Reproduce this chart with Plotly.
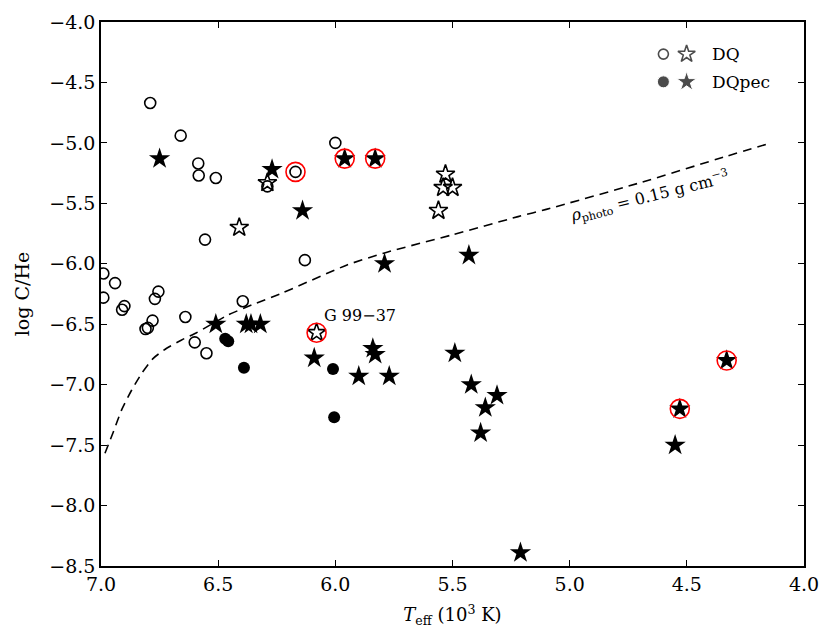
import plotly.graph_objects as go

# DQ, open circles
dq_circ_t = [6.79, 6.66, 6.585, 6.583, 6.51, 6.29, 6.17, 6.00, 6.556, 6.13, 6.99, 6.94,
             6.99, 6.755, 6.77, 6.90, 6.91, 6.395, 6.64, 6.81, 6.80, 6.78, 6.60, 6.55]
dq_circ_c = [-4.67, -4.94, -5.17, -5.27, -5.29, -5.36, -5.24, -5.00, -5.80, -5.97, -6.08, -6.16,
             -6.28, -6.23, -6.29, -6.35, -6.38, -6.31, -6.44, -6.54, -6.53, -6.47, -6.65, -6.74]

# DQ, open stars
dq_star_t = [6.41, 6.29, 5.53, 5.54, 5.50, 5.56, 6.08]
dq_star_c = [-5.70, -5.33, -5.26, -5.37, -5.37, -5.56, -6.57]

# DQpec, filled circles
pec_circ_t = [6.47, 6.457, 6.39, 6.01, 6.005]
pec_circ_c = [-6.62, -6.64, -6.86, -6.87, -7.27]

# DQpec, filled stars
pec_star_t = [6.75, 6.27, 6.14, 5.96, 5.83, 5.79, 5.43, 6.51, 6.38, 6.36, 6.32, 6.09,
              5.84, 5.83, 5.90, 5.77, 5.49, 5.42, 5.31, 5.36, 5.38, 5.21, 4.53, 4.33, 4.55]
pec_star_c = [-5.13, -5.22, -5.56, -5.13, -5.13, -6.00, -5.93, -6.50, -6.50, -6.50, -6.50, -6.78,
              -6.70, -6.75, -6.93, -6.93, -6.74, -7.00, -7.09, -7.19, -7.40, -8.39, -7.20, -6.80, -7.50]

# objects ringed in red
ring_t = [6.17, 5.96, 5.83, 6.08, 4.53, 4.33]
ring_c = [-5.24, -5.13, -5.13, -6.57, -7.20, -6.80]

# rho_photo = 0.15 g/cm3 curve
rho_t = [6.983, 6.947, 6.912, 6.869, 6.826, 6.777, 6.720, 6.656, 6.592, 6.457, 6.357, 6.229,
         5.95, 5.79, 5.50, 5.22, 5.10, 4.70, 4.33, 4.14]
rho_c = [-7.567, -7.389, -7.209, -7.044, -6.906, -6.782, -6.699, -6.630, -6.570, -6.423, -6.341, -6.244,
         -6.01, -5.91, -5.76, -5.61, -5.55, -5.33, -5.11, -5.00]

FONT = "DejaVu Serif"

fig = go.Figure()

fig.add_trace(go.Scatter(x=rho_t, y=rho_c, mode="lines",
                         line=dict(color="black", width=1.6, dash="9px,6px"),
                         line_shape="spline", line_smoothing=0.6, showlegend=False))

fig.add_trace(go.Scatter(x=dq_circ_t, y=dq_circ_c, mode="markers",
                         marker=dict(symbol="circle-open", size=11, color="black",
                                     line=dict(width=1.6)), showlegend=False))
fig.add_trace(go.Scatter(x=dq_star_t, y=dq_star_c, mode="markers",
                         marker=dict(symbol="star-open", size=14, color="black",
                                     line=dict(width=1.6)), showlegend=False))
fig.add_trace(go.Scatter(x=pec_circ_t, y=pec_circ_c, mode="markers",
                         marker=dict(symbol="circle", size=12, color="black"), showlegend=False))
fig.add_trace(go.Scatter(x=pec_star_t, y=pec_star_c, mode="markers",
                         marker=dict(symbol="star", size=16, color="black",
                                     line=dict(width=0)), showlegend=False))
fig.add_trace(go.Scatter(x=ring_t, y=ring_c, mode="markers",
                         marker=dict(symbol="circle-open", size=19, color="red",
                                     line=dict(width=1.6)), showlegend=False))

# hand-made legend on an overlay axis (0-1 box)
leg_x = [0.800, 0.833]
leg_y = [0.941, 0.890]
fig.add_trace(go.Scatter(x=leg_x, y=[leg_y[0]] * 2, xaxis="x2", yaxis="y2", mode="markers",
                         marker=dict(symbol=["circle-open", "star-open"], size=[10, 13],
                                     color="black", line=dict(width=1.6)),
                         showlegend=False, hoverinfo="skip"))
fig.add_trace(go.Scatter(x=leg_x, y=[leg_y[1]] * 2, xaxis="x2", yaxis="y2", mode="markers",
                         marker=dict(symbol=["circle", "star"], size=[12, 15], color="black"),
                         showlegend=False, hoverinfo="skip"))

for txt, yy in zip(["DQ", "DQpec"], leg_y):
    fig.add_annotation(x=0.866, y=yy, xref="x2", yref="y2", text=txt, showarrow=False,
                       xanchor="left", yanchor="middle", font=dict(size=17, color="black"))

fig.add_annotation(x=5.895, y=-6.43, text="G 99−37", showarrow=False,
                   font=dict(size=16, color="black"))
fig.add_annotation(x=4.66, y=-5.44, text="<i>ρ</i><sub>photo</sub> = 0.15 g cm<sup>−3</sup>",
                   showarrow=False, textangle=-14, font=dict(size=16, color="black"))

axis_common = dict(showline=True, linecolor="black", linewidth=1.5, mirror="ticks",
                   ticks="inside", ticklen=6, tickwidth=1, tickcolor="black", automargin=False,
                   showgrid=False, zeroline=False, tickfont=dict(size=19, color="black"))

# page body has an 8px margin, so the margins are shifted to compensate
fig.update_layout(
    width=831, height=641,
    margin=dict(l=93, r=35, t=14, b=83),
    plot_bgcolor="white", paper_bgcolor="white",
    font=dict(family=FONT, color="black"),
    xaxis=dict(range=[7.0, 4.0], tickvals=[7.0, 6.5, 6.0, 5.5, 5.0, 4.5, 4.0],
               tickformat=".1f", title=dict(text="<i>T</i><sub>eff</sub> (10<sup>3</sup> K)",
                                            font=dict(size=18)),
               **axis_common),
    yaxis=dict(range=[-8.5, -4.0], tickvals=[-8.5, -8.0, -7.5, -7.0, -6.5, -6.0, -5.5, -5.0, -4.5, -4.0],
               tickformat=".1f", title=dict(text="log C/He", font=dict(size=19)),
               **axis_common),
    xaxis2=dict(overlaying="x", range=[0, 1], visible=False, fixedrange=True),
    yaxis2=dict(overlaying="y", range=[0, 1], visible=False, fixedrange=True),
)

fig.write_html("out.html")
